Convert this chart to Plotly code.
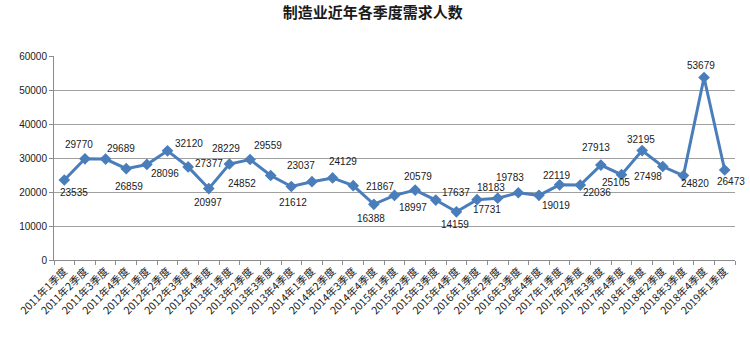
import plotly.graph_objects as go

categories = [
    "2011年1季度", "2011年2季度", "2011年3季度", "2011年4季度",
    "2012年1季度", "2012年2季度", "2012年3季度", "2012年4季度",
    "2013年1季度", "2013年2季度", "2013年3季度", "2013年4季度",
    "2014年1季度", "2014年2季度", "2014年3季度", "2014年4季度",
    "2015年1季度", "2015年2季度", "2015年3季度", "2015年4季度",
    "2016年1季度", "2016年2季度", "2016年3季度", "2016年4季度",
    "2017年1季度", "2017年2季度", "2017年3季度", "2017年4季度",
    "2018年1季度", "2018年2季度", "2018年3季度", "2018年4季度",
    "2019年1季度",
]
values = [
    23535, 29770, 29689, 26859, 28096, 32120, 27377, 20997,
    28229, 29559, 24852, 21612, 23037, 24129, 21867, 16388,
    18997, 20579, 17637, 14159, 17731, 18183, 19783, 19019,
    22119, 22036, 27913, 25105, 32195, 27498, 24820, 53679,
    26473,
]
y_ticks = [0, 10000, 20000, 30000, 40000, 50000, 60000]

# label offsets (pixels, x right / y down) as seen in the reference
label_dx = [10, -6, 15, 3, 18, 21, 21, -1, -3, 18, -29, 2, -11, 10, 27, -3,
            18, 3, 20, -1, 10, -7, -8, 17, -3, 17, -5, -6, -1, -15, 12, -3, 6]
label_dy = [13, -14, -11, 18, 9, -7, -3, 14, -16, -14, 8, 16, -16, -16, 1, 14,
            12, -14, -8, 13, 10, -11, -15, 10, -9, 7, -18, 8, -11, 10, 8, -12, 12]

fig = go.Figure()
fig.add_trace(go.Scatter(
    x=categories, y=values, mode="lines+markers",
    line=dict(color="#4A7EBB", width=3),
    marker=dict(symbol="diamond", size=9, color="#4A7EBB"),
    hoverinfo="x+y", showlegend=False,
))

for c, v, dx, dy in zip(categories, values, label_dx, label_dy):
    fig.add_annotation(
        x=c, y=v, text=str(v), showarrow=False,
        xshift=dx, yshift=-dy,
        font=dict(family="Liberation Sans, Arial, sans-serif", size=10, color="#1a1a1a"),
    )

fig.update_layout(
    width=750, height=342,
    margin=dict(l=54, r=15, t=56, b=82),
    paper_bgcolor="white", plot_bgcolor="white",
    title=dict(
        text="<b>制造业近年各季度需求人数</b>",
        x=0.497, xanchor="center", y=0.962, yanchor="middle",
        font=dict(family="Noto Sans CJK SC", size=15, color="#1a1a1a"),
    ),
    xaxis=dict(
        type="category", range=[-0.5, len(categories) - 0.5],
        tickangle=-45, tickson="boundaries",
        ticks="outside", ticklen=4, tickcolor="#8c8c8c",
        showline=True, linecolor="#8c8c8c", linewidth=1,
        showgrid=False,
        tickfont=dict(family="Noto Sans CJK SC", size=10.5, color="#1a1a1a"),
    ),
    yaxis=dict(
        range=[0, 60000], tickvals=y_ticks,
        ticktext=[str(t) for t in y_ticks],
        ticks="outside", ticklen=4, tickcolor="#8c8c8c",
        showline=True, linecolor="#8c8c8c", linewidth=1,
        gridcolor="#a0a0a0", gridwidth=1, zeroline=False,
        tickfont=dict(family="Liberation Sans, Arial, sans-serif", size=10, color="#1a1a1a"),
    ),
)

fig.write_html("out.html")
